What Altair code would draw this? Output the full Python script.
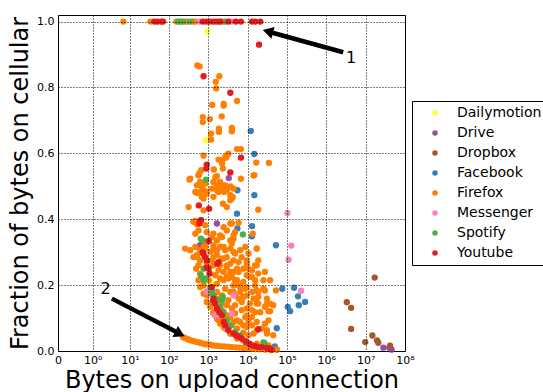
import altair as alt
import pandas as pd

apps = ["Dailymotion", "Drive", "Dropbox", "Facebook", "Firefox", "Messenger", "Spotify", "Youtube"]
app_colors = ["#ffff33", "#984ea3", "#a65628", "#377eb8", "#ff7f00", "#f781bf", "#4daf4a", "#e41a1c"]

# Values: log10(bytes on upload connection), fraction on cellular
dailymotion_log_bytes = [2.30, 2.98, 2.93, 2.91, 2.98, 3.02, 3.09, 3.05, 2.96, 3.08]
dailymotion_frac = [1.0, 0.97, 0.64, 0.311, 0.275, 0.253, 0.235, 0.212, 0.215, 0.209]

drive_log_bytes = [3.52, 3.22, 2.79, 2.84, 7.45, 7.60, 7.66]
drive_frac = [0.525, 0.387, 0.321, 0.328, 0.010, 0.010, 0.004]

dropbox_log_bytes = [7.23, 6.52, 6.63, 6.63, 7.17, 6.99, 7.29, 7.32, 7.62]
dropbox_frac = [0.223, 0.148, 0.131, 0.067, 0.047, 0.027, 0.032, 0.025, 0.016]

facebook_log_bytes = [4.08, 4.17, 4.17, 3.74, 3.73, 4.72, 3.74, 4.11, 4.11, 4.88, 5.18, 5.28,
                      5.46, 5.30, 5.02, 5.08, 4.74, 4.69, 4.74, 3.96]
facebook_frac = [0.668, 0.598, 0.473, 0.488, 0.417, 0.321, 0.372, 0.379, 0.348, 0.189, 0.192, 0.166,
                 0.149, 0.139, 0.134, 0.121, 0.069, 0.014, 0.004, 0.019]

firefox_log_bytes = [
    0.83, 1.53, 2.19, 2.30, 2.41, 2.47, 2.61, 2.67, 3.27, 3.37,
    2.78, 2.72, 3.28, 3.19, 3.20, 3.73, 3.10, 3.39, 3.39, 2.86, 2.86, 3.04, 3.34, 3.07, 3.07,
    3.27, 3.27, 3.60, 3.60, 2.88, 3.73, 3.83, 3.50, 3.45, 3.26, 3.35, 4.22, 4.54, 4.17, 3.83,
    2.82, 2.77, 2.79, 2.84, 2.90, 2.71, 2.96, 2.83, 2.52,
    3.14, 3.37, 3.22, 3.13, 3.30, 3.41, 3.56, 3.64, 3.22, 3.40, 3.13, 3.62, 3.56,
    3.35, 3.43, 3.51, 4.15, 2.75, 2.79, 2.71, 2.92, 2.79, 2.67, 2.88, 2.96, 3.09, 3.18, 3.22,
    3.35, 3.43, 3.56, 3.47, 3.26, 3.60, 3.56, 2.54,
    2.62, 2.75, 2.67, 2.92, 2.96, 3.09, 3.22, 3.30, 3.39, 3.60, 3.77, 3.64, 3.60, 3.39, 3.13,
    2.92, 3.68,
    2.50, 2.88, 3.37, 3.47, 4.27, 2.67, 2.71, 2.79, 2.82, 4.13, 4.23, 3.56, 3.47, 3.35, 3.56,
    3.64, 3.13, 3.22, 3.30, 3.13, 2.79, 2.88, 3.13, 2.79, 2.96, 2.71, 3.39, 3.47, 3.56, 3.64,
    3.73, 3.47, 3.68, 3.81, 3.64, 3.98, 4.02, 4.11, 3.98, 4.23, 4.27, 4.19, 4.23, 4.27, 4.23,
    4.40, 4.44, 4.49, 4.44, 4.65, 4.72, 4.44, 4.49,
    2.41, 2.54, 2.67, 2.79, 2.92, 3.13, 3.30, 3.43, 3.56, 3.68, 3.81, 3.94, 4.02, 4.23, 4.27,
    4.19, 3.47, 3.22, 3.09, 3.30, 3.56, 3.77, 3.89, 3.64, 3.39, 3.18, 3.30, 3.51, 3.73, 3.89,
    4.06, 4.19, 4.27, 4.23, 4.27, 4.32, 4.49, 4.53, 4.23, 4.11, 3.98, 3.85, 3.68, 3.56, 3.43,
    3.64, 3.81, 3.98, 4.06, 3.94, 3.81, 4.11, 3.98, 3.73, 3.60, 3.47, 3.35, 3.22, 3.51, 3.85,
    3.68, 4.40, 4.57, 4.44, 4.36, 4.49, 4.65, 4.15, 4.02, 3.89,
    2.71, 2.75, 2.79, 2.88, 2.96, 3.05, 3.13, 3.26, 3.39, 3.56, 3.73,
    2.62, 2.69, 2.75, 2.79, 2.88, 2.96, 3.05, 3.13, 3.22, 3.30, 3.43, 3.56, 3.73, 3.89,
    2.36, 2.42, 2.48, 2.54, 2.60, 2.66, 2.72, 2.79, 2.85, 2.92, 2.98, 3.05, 3.12, 3.20, 3.30,
    3.40, 3.50, 3.60, 3.70, 3.80, 3.90, 4.00, 4.10, 4.20, 4.30, 4.45, 4.60,
    4.57, 4.57, 4.54, 4.53, 4.23, 4.53, 4.61, 4.74,
    3.05, 3.22, 3.34, 3.64, 3.85, 3.98, 4.11, 3.98, 3.77, 3.47, 3.13, 3.26, 3.01, 3.09, 3.22,
    3.39, 3.60, 3.77, 3.94, 4.11, 4.15, 4.11, 3.98, 4.19, 3.89, 3.73, 3.60, 3.47, 3.34, 3.34,
    3.22, 3.68, 3.77, 3.89, 4.02, 4.23, 3.56, 3.43, 3.30, 3.64,
]
firefox_frac = [
    1.0, 1.0, 1.0, 1.0, 1.0, 1.0, 1.0, 1.0, 1.0, 1.0,
    0.864, 0.867, 0.834, 0.817, 0.797, 0.759, 0.747, 0.750, 0.745, 0.710, 0.695, 0.704, 0.712, 0.660, 0.642,
    0.675, 0.665, 0.677, 0.667, 0.593, 0.613, 0.613, 0.597, 0.587, 0.581, 0.569, 0.572, 0.571, 0.534, 0.523,
    0.549, 0.539, 0.509, 0.498, 0.487, 0.480, 0.483, 0.468, 0.520,
    0.551, 0.554, 0.531, 0.513, 0.513, 0.503, 0.500, 0.493, 0.488, 0.483, 0.468, 0.468, 0.458,
    0.579, 0.589, 0.599, 0.533, 0.533, 0.513, 0.503, 0.508, 0.483, 0.483, 0.463, 0.478, 0.493, 0.528, 0.503,
    0.498, 0.503, 0.498, 0.488, 0.483, 0.463, 0.473, 0.523,
    0.392, 0.366, 0.356, 0.382, 0.361, 0.346, 0.336, 0.351, 0.376, 0.387, 0.389, 0.341, 0.326, 0.316, 0.321,
    0.321, 0.361,
    0.437, 0.427, 0.447, 0.437, 0.429, 0.395, 0.385, 0.389, 0.397, 0.356, 0.311, 0.387, 0.366, 0.346, 0.336,
    0.351, 0.356, 0.336, 0.316, 0.306, 0.306, 0.316, 0.285, 0.275, 0.265, 0.285, 0.281, 0.255, 0.240, 0.275,
    0.250, 0.225, 0.215, 0.194, 0.179, 0.275, 0.250, 0.225, 0.194, 0.260, 0.235, 0.215, 0.184, 0.164, 0.144,
    0.215, 0.184, 0.159, 0.134, 0.139, 0.184, 0.083, 0.063,
    0.311, 0.306, 0.316, 0.301, 0.311, 0.311, 0.316, 0.306, 0.311, 0.296, 0.306, 0.316, 0.296, 0.311, 0.275,
    0.260, 0.285, 0.291, 0.275, 0.260, 0.265, 0.270, 0.250, 0.240, 0.240, 0.230, 0.220, 0.220, 0.215, 0.210,
    0.225, 0.199, 0.179, 0.159, 0.144, 0.118, 0.144, 0.093, 0.088, 0.103, 0.129, 0.149, 0.169, 0.179, 0.189,
    0.199, 0.179, 0.169, 0.144, 0.103, 0.088, 0.078, 0.073, 0.093, 0.129, 0.139, 0.169, 0.179, 0.154, 0.124,
    0.114, 0.189, 0.215, 0.240, 0.068, 0.053, 0.048, 0.053, 0.048, 0.056,
    0.291, 0.260, 0.235, 0.199, 0.169, 0.144, 0.118, 0.093, 0.073, 0.053, 0.038,
    0.285, 0.250, 0.215, 0.194, 0.174, 0.149, 0.134, 0.114, 0.098, 0.083, 0.068, 0.053, 0.043, 0.032,
    0.042, 0.039, 0.036, 0.033, 0.031, 0.029, 0.027, 0.025, 0.023, 0.021, 0.020, 0.019, 0.017, 0.016, 0.015,
    0.014, 0.013, 0.012, 0.011, 0.010, 0.009, 0.008, 0.007, 0.006, 0.005, 0.004, 0.003,
    0.144, 0.121, 0.144, 0.121, 0.022, 0.017, 0.007, 0.004,
    0.301, 0.306, 0.280, 0.301, 0.285, 0.265, 0.245, 0.230, 0.240, 0.260, 0.260, 0.245, 0.215, 0.189, 0.204,
    0.215, 0.225, 0.199, 0.189, 0.179, 0.159, 0.124, 0.108, 0.118, 0.078, 0.068, 0.078, 0.108, 0.124, 0.144,
    0.159, 0.139, 0.159, 0.164, 0.088, 0.063, 0.103, 0.093, 0.108, 0.088,
]

messenger_log_bytes = [2.77, 3.60, 5.01, 5.11, 5.04, 5.36, 3.13, 3.60, 3.17, 2.96, 3.64, 3.26, 3.47]
messenger_frac = [1.0, 1.0, 0.419, 0.320, 0.277, 0.183, 0.179, 0.114, 0.108, 0.181, 0.169, 0.108, 0.068]

spotify_log_bytes = [2.24, 2.35, 2.54, 3.43, 2.94, 2.81, 2.86, 3.88, 2.88, 2.92, 3.09, 3.13, 3.22, 3.35,
                     3.30, 3.39, 3.47, 3.56, 3.68, 3.81, 4.40, 2.81, 2.88, 3.05, 3.09, 3.13, 3.37, 4.43]
spotify_frac = [1.0, 1.0, 1.0, 1.0, 0.520, 0.341, 0.336, 0.354, 0.250, 0.220, 0.184, 0.169, 0.154, 0.154,
                0.134, 0.118, 0.093, 0.078, 0.058, 0.047, 0.026, 0.230, 0.214, 0.194, 0.174, 0.149, 0.164, 0.024]

youtube_log_bytes = [1.63, 1.71, 1.80, 1.85, 2.86, 2.95, 3.03, 3.12, 3.20, 3.30, 3.51, 3.70, 3.83, 4.11,
                     4.19, 4.32, 4.29, 2.88, 3.56, 3.83, 3.56, 2.96, 2.95, 2.76, 3.02, 2.77, 2.81, 3.01,
                     2.88, 2.92, 2.96, 2.96, 3.26, 4.27, 2.86, 3.01, 3.03, 3.09, 3.13, 3.17, 3.22, 3.28,
                     3.35, 3.39, 3.43, 3.51, 3.64, 3.77, 3.85, 3.23, 4.11, 4.19, 4.27, 4.36, 4.49, 4.57,
                     4.61, 3.13, 3.70, 3.95, 4.05]
youtube_frac = [1.0, 1.0, 1.0, 1.0, 1.0, 1.0, 1.0, 1.0, 1.0, 1.0, 1.0, 1.0, 1.0, 1.0,
                1.0, 1.0, 0.930, 0.834, 0.784, 0.587, 0.542, 0.566, 0.554, 0.442, 0.432, 0.387, 0.397, 0.334,
                0.294, 0.285, 0.275, 0.253, 0.270, 0.066, 0.299, 0.250, 0.235, 0.194, 0.154, 0.144, 0.129, 0.118,
                0.108, 0.088, 0.078, 0.063, 0.053, 0.043, 0.038, 0.265, 0.017, 0.015, 0.012, 0.012, 0.009, 0.007,
                0.004, 0.159, 0.048, 0.030, 0.022]

series = [
    ("Dailymotion", dailymotion_log_bytes, dailymotion_frac),
    ("Drive", drive_log_bytes, drive_frac),
    ("Dropbox", dropbox_log_bytes, dropbox_frac),
    ("Facebook", facebook_log_bytes, facebook_frac),
    ("Firefox", firefox_log_bytes, firefox_frac),
    ("Messenger", messenger_log_bytes, messenger_frac),
    ("Spotify", spotify_log_bytes, spotify_frac),
    ("Youtube", youtube_log_bytes, youtube_frac),
]

rows = []
order = 0
for app, lb, fr in series:
    for e, f in zip(lb, fr):
        rows.append({"app": app, "bytes": 10 ** e, "frac": f, "order": order})
        order += 1
points_df = pd.DataFrame(rows)

# annotations (data coordinates)
arrow_tail_bytes = [2.69e6, 3.39]
arrow_tail_frac = [0.907, 0.159]
arrow_head_bytes = [3.27e4, 189.5]
arrow_head_frac = [0.970, 0.052]
arrow_angle = [285, 117]
arrows_df = pd.DataFrame({"bytes": arrow_tail_bytes, "frac": arrow_tail_frac,
                          "bytes2": arrow_head_bytes, "frac2": arrow_head_frac})
heads_df = pd.DataFrame({"bytes": arrow_head_bytes, "frac": arrow_head_frac, "angle": arrow_angle})

note_labels = ["1", "2"]
note_bytes = [4.24e6, 2.29]
note_frac = [0.889, 0.187]
notes_df = pd.DataFrame({"bytes": note_bytes, "frac": note_frac, "label": note_labels})

x_tick_values = [0, 1, 10, 100, 1e3, 1e4, 1e5, 1e6, 1e7, 1e8]
y_tick_values = [0.0, 0.2, 0.4, 0.6, 0.8, 1.0]
sup = ["⁰", "¹", "²", "³", "⁴", "⁵", "⁶", "⁷", "⁸"]
label_expr = "'0'"
for k in range(0, 9):
    label_expr = f"datum.value >= {0.5 * 10 ** k} ? '10{sup[k]}' : (" + label_expr + ")"

FONT = "DejaVu Sans"
xscale = alt.Scale(type="symlog", constant=0.151, domain=[0, 1e8], nice=False, zero=False)
yscale = alt.Scale(domain=[0, 1.02], nice=False, zero=False)

grid_common = dict(grid=True, gridColor="black", gridDash=[1, 2], gridWidth=1, gridOpacity=1,
                   ticks=False, domain=False, labelFont=FONT, labelFontSize=11, labelColor="black",
                   titleFont=FONT, titleFontSize=24, titleFontWeight="normal", titleColor="black",
                   labelOverlap=False, labelFlush=False, labelBound=False, zindex=1)
xaxis = alt.Axis(values=x_tick_values, labelExpr=label_expr, labelPadding=3,
                 title="Bytes on upload connection", titlePadding=3, **grid_common)
yaxis = alt.Axis(values=y_tick_values, format=".1f", labelPadding=4,
                 title="Fraction of bytes on cellular", titlePadding=4, **grid_common)

X = alt.X("bytes:Q", scale=xscale, axis=xaxis)
Y = alt.Y("frac:Q", scale=yscale, axis=yaxis)

points = alt.Chart(points_df).mark_circle(size=40, opacity=1).encode(
    x=X, y=Y,
    color=alt.Color("app:N", scale=alt.Scale(domain=apps, range=app_colors),
                    legend=alt.Legend(title=None, orient="none", legendX=354, legendY=86,
                                      strokeColor="black", fillColor="white", padding=5,
                                      labelFont=FONT, labelFontSize=14, labelColor="black",
                                      symbolType="circle", symbolSize=30, symbolOpacity=1,
                                      symbolStrokeWidth=0, rowPadding=6, labelOffset=15,
                                      symbolOffset=11, cornerRadius=0, labelLimit=300)),
    order=alt.Order("order:Q"),
)

arrow_lines = alt.Chart(arrows_df).mark_rule(color="black", strokeWidth=4.5).encode(
    x=X, y=Y, x2="bytes2:Q", y2="frac2:Q")

arrow_heads = alt.Chart(heads_df).mark_point(shape="triangle-up", filled=True, size=150,
                                             color="black", opacity=1).encode(
    x=X, y=Y, angle=alt.Angle("angle:Q", scale=None))

notes = alt.Chart(notes_df).mark_text(font=FONT, fontSize=16, color="black",
                                      align="center", baseline="middle").encode(
    x=X, y=Y, text="label:N")

chart = alt.layer(points, arrow_lines, arrow_heads, notes).properties(
    width=347, height=336,
    autosize=alt.AutoSizeParams(type="none"),
    padding={"left": 58, "top": 15, "right": 138, "bottom": 41},
).configure_view(stroke="black", strokeWidth=1)

chart.save("out.html", embed_options={"renderer": "svg", "actions": False})
